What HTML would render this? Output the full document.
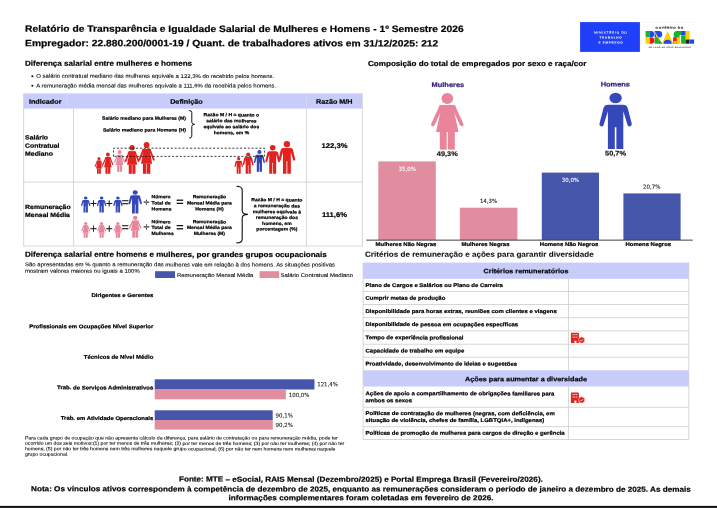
<!DOCTYPE html><html lang="pt-BR"><head><meta charset="utf-8"><title>Relatório de Transparência e Igualdade Salarial</title><style>
html,body{margin:0;padding:0;background:#fff;}
body{width:717px;height:508px;position:relative;overflow:hidden;font-family:"Liberation Sans", sans-serif;}
.t{position:absolute;white-space:nowrap;line-height:1;}
.r{position:absolute;}
svg{position:absolute;left:0;top:0;overflow:visible;}
text{white-space:pre;}
</style></head><body>
<svg width="717" height="508" viewBox="0 0 717 508"><rect x="580.10" y="22.10" width="59.80" height="29.80" fill="#1f40f8"/><rect x="640.00" y="22.10" width="58.00" height="0.40" fill="#efefef"/><ellipse cx="32.35" cy="76.2" rx="1.05" ry="1" fill="#111"/><ellipse cx="32.35" cy="85.8" rx="1.05" ry="1" fill="#111"/><rect x="23.60" y="93.40" width="338.80" height="15.20" fill="#c7ccfb"/><rect x="23.25" y="93.40" width="0.90" height="152.80" fill="#d2d2d2"/><rect x="361.85" y="93.40" width="0.90" height="152.80" fill="#d2d2d2"/><rect x="23.40" y="181.65" width="339.20" height="0.90" fill="#d2d2d2"/><rect x="23.40" y="245.55" width="339.20" height="0.90" fill="#d2d2d2"/><rect x="73.15" y="108.60" width="0.90" height="137.60" fill="#d2d2d2"/><rect x="306.15" y="108.60" width="0.90" height="137.60" fill="#d2d2d2"/><rect x="66.55" y="93.40" width="0.90" height="15.20" fill="#d6d9f6"/><rect x="306.15" y="93.40" width="0.90" height="15.20" fill="#d6d9f6"/><rect x="155.10" y="271.20" width="19.90" height="6.80" fill="#4656ab"/><rect x="259.60" y="271.20" width="19.60" height="6.80" fill="#e08e9f"/><rect x="154.70" y="379.30" width="159.80" height="10.20" fill="#4656ab"/><rect x="154.70" y="389.50" width="131.20" height="9.80" fill="#e08e9f"/><rect x="154.70" y="410.30" width="118.00" height="9.70" fill="#4656ab"/><rect x="154.70" y="420.00" width="118.10" height="9.60" fill="#e08e9f"/><rect x="378.30" y="161.40" width="57.50" height="78.50" fill="#e08e9f"/><rect x="459.90" y="207.70" width="57.50" height="32.20" fill="#e08e9f"/><rect x="541.80" y="172.60" width="57.20" height="67.30" fill="#4656ab"/><rect x="623.40" y="193.40" width="57.20" height="46.50" fill="#4656ab"/><rect x="366.30" y="239.70" width="326.40" height="0.80" fill="#111"/><rect x="363.00" y="262.60" width="325.90" height="16.20" fill="#c7ccfb"/><rect x="363.00" y="370.30" width="325.90" height="16.20" fill="#c7ccfb"/><rect x="363.00" y="290.95" width="325.90" height="0.90" fill="#d2d2d2"/><rect x="363.00" y="304.05" width="325.90" height="0.90" fill="#d2d2d2"/><rect x="363.00" y="317.25" width="325.90" height="0.90" fill="#d2d2d2"/><rect x="363.00" y="330.45" width="325.90" height="0.90" fill="#d2d2d2"/><rect x="363.00" y="343.75" width="325.90" height="0.90" fill="#d2d2d2"/><rect x="363.00" y="356.75" width="325.90" height="0.90" fill="#d2d2d2"/><rect x="363.00" y="406.75" width="325.90" height="0.90" fill="#d2d2d2"/><rect x="363.00" y="426.25" width="325.90" height="0.90" fill="#d2d2d2"/><rect x="363.00" y="439.15" width="325.90" height="0.90" fill="#d2d2d2"/><rect x="362.65" y="262.60" width="0.90" height="177.30" fill="#d2d2d2"/><rect x="688.35" y="262.60" width="0.90" height="177.30" fill="#d2d2d2"/><rect x="567.95" y="278.80" width="0.90" height="91.80" fill="#d2d2d2"/><rect x="567.95" y="386.60" width="0.90" height="53.30" fill="#d2d2d2"/><rect x="0.00" y="505.88" width="717.00" height="2.12" fill="#141414"/><rect x="0.00" y="507.00" width="717.00" height="1.00" fill="#262626"/></svg>
<svg width="717" height="508" viewBox="0 0 717 508">
<g transform="translate(645.6,31)">
<rect x="0" y="0" width="4.2" height="6.3" fill="#16b32a"/><path d="M4.2 0h1.2a3.1 3.1 0 0 1 0 6.3h-1.2z" fill="#1d49f5"/><rect x="0" y="6.3" width="4.2" height="6.4" fill="#ffd000"/><path d="M4.2 6.3h1.4a3.2 3.2 0 0 1 0 6.4h-1.4z" fill="#f0141e"/>
<path d="M9 0h4.4a3.2 3.2 0 0 1 0 6.4h-4.4z" fill="#1d49f5"/><path d="M9 0l7.6 12.7h-4z" fill="#ffd000"/><rect x="9" y="6.4" width="3.6" height="6.3" fill="#16b32a"/><path d="M12.6 7.4l4.4 5.3h-4.4z" fill="#16b32a"/>
<path d="M22 0l5.6 12.7h-11.2z" fill="#ffd000"/><path d="M18 12.7a4 4 0 0 1 8 0z" fill="#1d49f5"/>
<path d="M31.5 0a3.5 3.5 0 0 0 0 7h2.5v-7z" fill="#16b32a"/><rect x="31" y="0" width="4.5" height="4" fill="#16b32a"/><path d="M27.5 6.3h3.5a3.2 3.2 0 0 1 0 6.4h-3.5z" fill="#f0141e"/><rect x="31" y="6.3" width="3.5" height="6.4" fill="#ffd000"/><rect x="28" y="10" width="3" height="2.7" fill="#ffd000"/>
<rect x="35.5" y="0" width="4.6" height="4.5" fill="#1d49f5"/><rect x="35.5" y="4.5" width="4.6" height="8.2" fill="#16b32a"/>
<rect x="40.1" y="0" width="4" height="8.5" fill="#ffd000"/><rect x="40.1" y="8.5" width="3.6" height="4.2" fill="#222"/><rect x="43.7" y="8.5" width="4.8" height="4.2" fill="#1d49f5"/>
</g></svg>
<svg width="717" height="508" viewBox="0 0 717 508">
<defs>
<g id="w"><ellipse cx="0" cy="5.5" rx="5.8" ry="5.5"/><rect x="-8.6" y="12.1" width="17.2" height="5" rx="2.4"/><path d="M-5.6 13h11.2l5.7 26h-22.600z"/><path d="M-6.600 14.500l-7.800 17M6.600 14.500l7.800 17" stroke="currentColor" stroke-width="3.700" stroke-linecap="round" fill="none" class="arm"/><rect x="-7.500" y="38.500" width="6.900" height="18.200"/><rect x=".5" y="38.500" width="7" height="18.200"/></g>
<g id="m"><ellipse cx="0" cy="5.3" rx="6.2" ry="5.3"/><path d="M-7.5 12h15q3.6 0 4.6 3.4l4 15.4q.5 2.2-1.4 2.8t-2.7-1.4l-4.3-13.6v37.7h-6.9v-21.8h-1.6v21.8h-6.9v-37.7l-4.3 13.6q-.8 2-2.7 1.4t-1.4-2.8l4-15.4q1-3.400 4.600-3.400z"/></g>
</defs>
<use href="#w" transform="translate(98.95,157.00) scale(0.2607,0.2963)" fill="#e3211f" color="#e3211f"/>
<use href="#w" transform="translate(107.90,152.50) scale(0.3306,0.3757)" fill="#e3211f" color="#e3211f"/>
<use href="#w" transform="translate(119.60,150.00) scale(0.3383,0.3845)" fill="#ea8ba3" color="#ea8ba3"/>
<use href="#w" transform="translate(132.10,145.00) scale(0.4470,0.5079)" fill="#e3211f" color="#e3211f"/>
<use href="#w" transform="translate(146.60,141.90) scale(0.4951,0.5626)" fill="#e3211f" color="#e3211f"/>
<use href="#m" transform="translate(238.70,157.10) scale(0.2610,0.2966)" fill="#e3211f" color="#e3211f"/>
<use href="#m" transform="translate(248.20,152.50) scale(0.3329,0.3783)" fill="#e3211f" color="#e3211f"/>
<use href="#m" transform="translate(259.40,150.00) scale(0.3407,0.3872)" fill="#3548b9" color="#3548b9"/>
<use href="#m" transform="translate(272.70,145.00) scale(0.4502,0.5115)" fill="#e3211f" color="#e3211f"/>
<use href="#m" transform="translate(286.90,141.10) scale(0.5111,0.5808)" fill="#e3211f" color="#e3211f"/>
<path d="M113.5 156.4V148.2H264.6V156.4H113.5" fill="none" stroke="#111" stroke-width="0.8" stroke-dasharray="2.1 1.75"/>
<path d="M189.1 110.5q2.700 0 2.700 2v9.800q0 1.800 2.800 2q-2.800 .2-2.800 2v9.800q0 2-2.700 2" fill="none" stroke="#111" stroke-width="1"/>
<path d="M236.4 186.300q5.800 0 5.800 4v20.500q0 3.500 5.700 3.600q-5.700 .1-5.700 3.600v20.900q0 4-5.800 4" fill="none" stroke="#111" stroke-width="1.1"/>
<use href="#m" transform="translate(85.70,196.50) scale(0.2860,0.2860)" fill="#3548b9" color="#3548b9"/>
<use href="#w" transform="translate(85.70,222.00) scale(0.2769,0.2769)" fill="#ea849b" color="#ea849b"/>
<use href="#m" transform="translate(101.60,196.50) scale(0.2860,0.2860)" fill="#3548b9" color="#3548b9"/>
<use href="#w" transform="translate(101.60,222.00) scale(0.2769,0.2769)" fill="#ea849b" color="#ea849b"/>
<use href="#m" transform="translate(117.90,196.50) scale(0.2860,0.2860)" fill="#3548b9" color="#3548b9"/>
<use href="#w" transform="translate(117.90,222.00) scale(0.2769,0.2769)" fill="#ea849b" color="#ea849b"/>
<use href="#m" transform="translate(135.20,190.30) scale(0.4139,0.4139)" fill="#3548b9" color="#3548b9"/>
<use href="#w" transform="translate(135.20,215.80) scale(0.3862,0.3862)" fill="#ea849b" color="#ea849b"/>
<use href="#w" transform="translate(447.30,92.90) scale(1.0000,1.0000)" fill="#ea849b" color="#ea849b"/>
<use href="#m" transform="translate(615.60,92.70) scale(1.0000,1.0000)" fill="#3548b9" color="#3548b9"/>
</svg>
<svg width="717" height="508" viewBox="0 0 717 508"><g transform="translate(570.9,332.8)"><path d="M.8 0h6.400q.8 0 .8.800v9.500h-2.500v-2.300h-2v2.300h-3.500v-9.500q0-.8.800-.8z" fill="#e3211f"/><path d="M1.600 1.900h4.800M1.600 4.400h4.800" stroke="#fff" stroke-width="0.9" stroke-dasharray="1.2 0.6"/><circle cx="10.800" cy="7.300" r="3.100" fill="#e3211f" stroke="#fff" stroke-width="0.5"/><path d="M9.400 7.400l1 1 1.900-2" stroke="#fff" stroke-width="0.7" fill="none"/></g></svg>
<svg width="717" height="508" viewBox="0 0 717 508"><g transform="translate(570.9,392.6)"><path d="M.8 0h6.400q.8 0 .8.800v9.500h-2.500v-2.300h-2v2.300h-3.500v-9.500q0-.8.800-.8z" fill="#e3211f"/><path d="M1.600 1.900h4.800M1.600 4.400h4.800" stroke="#fff" stroke-width="0.9" stroke-dasharray="1.2 0.6"/><circle cx="10.800" cy="7.300" r="3.100" fill="#e3211f" stroke="#fff" stroke-width="0.5"/><path d="M9.400 7.400l1 1 1.900-2" stroke="#fff" stroke-width="0.7" fill="none"/></g></svg>
<svg width="717" height="508" viewBox="0 0 717 508" style="text-rendering:geometricPrecision">
<text transform="translate(25.10,31.80) scale(1.11,1) matrix(1,0.0006,0,1,0,0)" font-size="9.261" font-weight="bold" fill="#000" text-anchor="start" stroke="#000" stroke-width="0.2">Relatório de Transparência e Igualdade Salarial de Mulheres e Homens - 1º Semestre 2026</text>
<text transform="translate(25.10,46.20) scale(1.11,1) matrix(1,0.0006,0,1,0,0)" font-size="9.261" font-weight="bold" fill="#000" text-anchor="start" stroke="#000" stroke-width="0.2">Empregador: 22.880.200/0001-19 / Quant. de trabalhadores ativos em 31/12/2025: 212</text>
<text transform="translate(610.90,33.50) scale(1.11,1) matrix(1,0.0006,0,1,0,0)" font-size="2.793" font-weight="normal" fill="#fff" text-anchor="middle" letter-spacing="0.676" stroke="#fff" stroke-width="0.08">MINISTÉRIO DO</text>
<text transform="translate(610.90,38.40) scale(1.11,1) matrix(1,0.0006,0,1,0,0)" font-size="2.703" font-weight="bold" fill="#fff" text-anchor="middle" letter-spacing="0.676" stroke="#fff" stroke-width="0.08">TRABALHO</text>
<text transform="translate(610.90,43.50) scale(1.11,1) matrix(1,0.0006,0,1,0,0)" font-size="2.703" font-weight="bold" fill="#fff" text-anchor="middle" letter-spacing="0.676" stroke="#fff" stroke-width="0.08">E EMPREGO</text>
<text transform="translate(669.70,28.70) scale(1.11,1) matrix(1,0.0006,0,1,0,0)" font-size="2.793" font-weight="bold" fill="#000" text-anchor="middle" letter-spacing="0.631" stroke="#000" stroke-width="0.08">GOVERNO DO</text>
<text transform="translate(669.90,47.90) scale(1.11,1) matrix(1,0.0006,0,1,0,0)" font-size="1.892" font-weight="bold" fill="#555" text-anchor="middle" letter-spacing="0.315" stroke="#555" stroke-width="0.08">DO LADO DO POVO BRASILEIRO</text>
<text transform="translate(25.00,65.70) scale(1.11,1) matrix(1,0.0006,0,1,0,0)" font-size="7.297" font-weight="bold" fill="#000" text-anchor="start" stroke="#000" stroke-width="0.2">Diferença salarial entre mulheres e homens</text>
<text transform="translate(36.30,77.80) scale(1.11,1) matrix(1,0.0006,0,1,0,0)" font-size="5.387" font-weight="normal" fill="#000" text-anchor="start" stroke="#000" stroke-width="0.08">O salário contratual mediano das mulheres equivale a 122,3% do recebido pelos homens.</text>
<text transform="translate(36.30,87.40) scale(1.11,1) matrix(1,0.0006,0,1,0,0)" font-size="5.387" font-weight="normal" fill="#000" text-anchor="start" stroke="#000" stroke-width="0.08">A remuneração média mensal das mulheres equivale a 111,6% da recebida pelos homens.</text>
<text transform="translate(28.90,103.80) scale(1.11,1) matrix(1,0.0006,0,1,0,0)" font-size="6.532" font-weight="bold" fill="#000" text-anchor="start" stroke="#000" stroke-width="0.2">Indicador</text>
<text transform="translate(186.40,103.80) scale(1.11,1) matrix(1,0.0006,0,1,0,0)" font-size="6.532" font-weight="bold" fill="#000" text-anchor="middle" stroke="#000" stroke-width="0.2">Definição</text>
<text transform="translate(334.30,103.80) scale(1.11,1) matrix(1,0.0006,0,1,0,0)" font-size="6.532" font-weight="bold" fill="#000" text-anchor="middle" stroke="#000" stroke-width="0.2">Razão M/H</text>
<text transform="translate(25.10,139.50) scale(1.11,1) matrix(1,0.0006,0,1,0,0)" font-size="6.216" font-weight="bold" fill="#000" text-anchor="start" stroke="#000" stroke-width="0.2">Salário</text>
<text transform="translate(25.10,147.70) scale(1.11,1) matrix(1,0.0006,0,1,0,0)" font-size="6.216" font-weight="bold" fill="#000" text-anchor="start" stroke="#000" stroke-width="0.2">Contratual</text>
<text transform="translate(25.10,155.80) scale(1.11,1) matrix(1,0.0006,0,1,0,0)" font-size="6.216" font-weight="bold" fill="#000" text-anchor="start" stroke="#000" stroke-width="0.2">Mediano</text>
<text transform="translate(334.50,148.00) scale(1.11,1) matrix(1,0.0006,0,1,0,0)" font-size="6.892" font-weight="bold" fill="#000" text-anchor="middle" stroke="#000" stroke-width="0.2">122,3%</text>
<text transform="translate(25.10,208.90) scale(1.11,1) matrix(1,0.0006,0,1,0,0)" font-size="6.216" font-weight="bold" fill="#000" text-anchor="start" stroke="#000" stroke-width="0.2">Remuneração</text>
<text transform="translate(25.10,216.90) scale(1.11,1) matrix(1,0.0006,0,1,0,0)" font-size="6.216" font-weight="bold" fill="#000" text-anchor="start" stroke="#000" stroke-width="0.2">Mensal Média</text>
<text transform="translate(334.50,216.90) scale(1.11,1) matrix(1,0.0006,0,1,0,0)" font-size="6.892" font-weight="bold" fill="#000" text-anchor="middle" stroke="#000" stroke-width="0.2">111,6%</text>
<text transform="translate(185.90,119.67) scale(1.11,1) matrix(1,0.0006,0,1,0,0)" font-size="4.577" font-weight="bold" fill="#000" text-anchor="end" stroke="#000" stroke-width="0.2">Salário mediano para Mulheres (M)</text>
<text transform="translate(185.90,131.47) scale(1.11,1) matrix(1,0.0006,0,1,0,0)" font-size="4.685" font-weight="bold" fill="#000" text-anchor="end" stroke="#000" stroke-width="0.2">Salário mediano para Homens (H)</text>
<text transform="translate(231.40,116.37) scale(1.11,1) matrix(1,0.0006,0,1,0,0)" font-size="4.577" font-weight="bold" fill="#000" text-anchor="middle" stroke="#000" stroke-width="0.2">Razão M / H = quanto o</text>
<text transform="translate(231.40,122.37) scale(1.11,1) matrix(1,0.0006,0,1,0,0)" font-size="4.577" font-weight="bold" fill="#000" text-anchor="middle" stroke="#000" stroke-width="0.2">salário das mulheres</text>
<text transform="translate(231.40,128.27) scale(1.11,1) matrix(1,0.0006,0,1,0,0)" font-size="4.577" font-weight="bold" fill="#000" text-anchor="middle" stroke="#000" stroke-width="0.2">equivale ao salário dos</text>
<text transform="translate(231.40,134.27) scale(1.11,1) matrix(1,0.0006,0,1,0,0)" font-size="4.577" font-weight="bold" fill="#000" text-anchor="middle" stroke="#000" stroke-width="0.2">homens, em %</text>
<text transform="translate(151.50,198.17) scale(1.11,1) matrix(1,0.0006,0,1,0,0)" font-size="4.577" font-weight="bold" fill="#000" text-anchor="start" stroke="#000" stroke-width="0.2">Número</text>
<text transform="translate(151.50,204.47) scale(1.11,1) matrix(1,0.0006,0,1,0,0)" font-size="4.577" font-weight="bold" fill="#000" text-anchor="start" stroke="#000" stroke-width="0.2">Total de</text>
<text transform="translate(151.50,210.47) scale(1.11,1) matrix(1,0.0006,0,1,0,0)" font-size="4.577" font-weight="bold" fill="#000" text-anchor="start" stroke="#000" stroke-width="0.2">Homens</text>
<text transform="translate(151.50,223.37) scale(1.11,1) matrix(1,0.0006,0,1,0,0)" font-size="4.577" font-weight="bold" fill="#000" text-anchor="start" stroke="#000" stroke-width="0.2">Número</text>
<text transform="translate(151.50,228.97) scale(1.11,1) matrix(1,0.0006,0,1,0,0)" font-size="4.577" font-weight="bold" fill="#000" text-anchor="start" stroke="#000" stroke-width="0.2">Total de</text>
<text transform="translate(151.50,234.97) scale(1.11,1) matrix(1,0.0006,0,1,0,0)" font-size="4.577" font-weight="bold" fill="#000" text-anchor="start" stroke="#000" stroke-width="0.2">Mulheres</text>
<text transform="translate(209.40,198.17) scale(1.11,1) matrix(1,0.0006,0,1,0,0)" font-size="4.577" font-weight="bold" fill="#000" text-anchor="middle" stroke="#000" stroke-width="0.2">Remuneração</text>
<text transform="translate(209.40,204.47) scale(1.11,1) matrix(1,0.0006,0,1,0,0)" font-size="4.577" font-weight="bold" fill="#000" text-anchor="middle" stroke="#000" stroke-width="0.2">Mensal Média para</text>
<text transform="translate(209.40,210.47) scale(1.11,1) matrix(1,0.0006,0,1,0,0)" font-size="4.577" font-weight="bold" fill="#000" text-anchor="middle" stroke="#000" stroke-width="0.2">Homens (H)</text>
<text transform="translate(209.40,223.37) scale(1.11,1) matrix(1,0.0006,0,1,0,0)" font-size="4.577" font-weight="bold" fill="#000" text-anchor="middle" stroke="#000" stroke-width="0.2">Remuneração</text>
<text transform="translate(209.40,228.97) scale(1.11,1) matrix(1,0.0006,0,1,0,0)" font-size="4.577" font-weight="bold" fill="#000" text-anchor="middle" stroke="#000" stroke-width="0.2">Mensal Média para</text>
<text transform="translate(209.40,234.97) scale(1.11,1) matrix(1,0.0006,0,1,0,0)" font-size="4.577" font-weight="bold" fill="#000" text-anchor="middle" stroke="#000" stroke-width="0.2">Mulheres (M)</text>
<text transform="translate(276.90,201.37) scale(1.11,1) matrix(1,0.0006,0,1,0,0)" font-size="4.577" font-weight="bold" fill="#000" text-anchor="middle" stroke="#000" stroke-width="0.2">Razão M / H = quanto</text>
<text transform="translate(276.90,207.37) scale(1.11,1) matrix(1,0.0006,0,1,0,0)" font-size="4.577" font-weight="bold" fill="#000" text-anchor="middle" stroke="#000" stroke-width="0.2">a remuneração das</text>
<text transform="translate(276.90,213.37) scale(1.11,1) matrix(1,0.0006,0,1,0,0)" font-size="4.577" font-weight="bold" fill="#000" text-anchor="middle" stroke="#000" stroke-width="0.2">mulheres equivale à</text>
<text transform="translate(276.90,219.07) scale(1.11,1) matrix(1,0.0006,0,1,0,0)" font-size="4.577" font-weight="bold" fill="#000" text-anchor="middle" stroke="#000" stroke-width="0.2">remuneração dos</text>
<text transform="translate(276.90,224.97) scale(1.11,1) matrix(1,0.0006,0,1,0,0)" font-size="4.577" font-weight="bold" fill="#000" text-anchor="middle" stroke="#000" stroke-width="0.2">homens, em</text>
<text transform="translate(276.90,230.57) scale(1.11,1) matrix(1,0.0006,0,1,0,0)" font-size="4.577" font-weight="bold" fill="#000" text-anchor="middle" stroke="#000" stroke-width="0.2">porcentagem (%)</text>
<text transform="translate(93.40,207.54) scale(1.0,1) matrix(1,0.0006,0,1,0,0)" font-size="12.000" font-weight="normal" fill="#111" text-anchor="middle" stroke="#111" stroke-width="0.12">+</text>
<text transform="translate(109.30,207.54) scale(1.0,1) matrix(1,0.0006,0,1,0,0)" font-size="12.000" font-weight="normal" fill="#111" text-anchor="middle" stroke="#111" stroke-width="0.12">+</text>
<text transform="translate(125.20,206.00) scale(1.0,1) matrix(1,0.0006,0,1,0,0)" font-size="11.900" font-weight="normal" fill="#111" text-anchor="middle" stroke="#111" stroke-width="0.3">=</text>
<text transform="translate(93.40,232.64) scale(1.0,1) matrix(1,0.0006,0,1,0,0)" font-size="12.000" font-weight="normal" fill="#111" text-anchor="middle" stroke="#111" stroke-width="0.12">+</text>
<text transform="translate(109.30,232.64) scale(1.0,1) matrix(1,0.0006,0,1,0,0)" font-size="12.000" font-weight="normal" fill="#111" text-anchor="middle" stroke="#111" stroke-width="0.12">+</text>
<text transform="translate(125.20,231.10) scale(1.0,1) matrix(1,0.0006,0,1,0,0)" font-size="11.900" font-weight="normal" fill="#111" text-anchor="middle" stroke="#111" stroke-width="0.3">=</text>
<text transform="translate(146.40,205.81) scale(1.0,1) matrix(1,0.0006,0,1,0,0)" font-size="10.800" font-weight="normal" fill="#111" text-anchor="middle" stroke="#111" stroke-width="0.18">÷</text>
<text transform="translate(146.40,230.61) scale(1.0,1) matrix(1,0.0006,0,1,0,0)" font-size="10.800" font-weight="normal" fill="#111" text-anchor="middle" stroke="#111" stroke-width="0.18">÷</text>
<text transform="translate(180.00,206.05) scale(1.0,1) matrix(1,0.0006,0,1,0,0)" font-size="12.600" font-weight="normal" fill="#111" text-anchor="middle" stroke="#111" stroke-width="0.3">=</text>
<text transform="translate(180.00,231.25) scale(1.0,1) matrix(1,0.0006,0,1,0,0)" font-size="12.600" font-weight="normal" fill="#111" text-anchor="middle" stroke="#111" stroke-width="0.3">=</text>
<text transform="translate(25.00,256.80) scale(1.11,1) matrix(1,0.0006,0,1,0,0)" font-size="7.297" font-weight="bold" fill="#000" text-anchor="start" stroke="#000" stroke-width="0.2">Diferença salarial entre homens e mulheres, por grandes grupos ocupacionais</text>
<text transform="translate(25.00,266.30) scale(1.11,1) matrix(1,0.0006,0,1,0,0)" font-size="5.405" font-weight="normal" fill="#000" text-anchor="start" stroke="#000" stroke-width="0.08">São apresentadas em % quanto a remuneração das mulheres vale em relação à dos homens. As situações positivas</text>
<text transform="translate(25.00,272.80) scale(1.11,1) matrix(1,0.0006,0,1,0,0)" font-size="5.405" font-weight="normal" fill="#000" text-anchor="start" stroke="#000" stroke-width="0.08">mostram valores maiores ou iguais a 100%</text>
<text transform="translate(176.90,277.00) scale(1.11,1) matrix(1,0.0006,0,1,0,0)" font-size="5.405" font-weight="normal" fill="#000" text-anchor="start" stroke="#000" stroke-width="0.08">Remuneração Mensal Média</text>
<text transform="translate(280.50,277.00) scale(1.11,1) matrix(1,0.0006,0,1,0,0)" font-size="5.405" font-weight="normal" fill="#000" text-anchor="start" stroke="#000" stroke-width="0.08">Salário Contratual Mediano</text>
<text transform="translate(153.30,297.12) scale(1.11,1) matrix(1,0.0006,0,1,0,0)" font-size="5.405" font-weight="bold" fill="#000" text-anchor="end" stroke="#000" stroke-width="0.2">Dirigentes e Gerentes</text>
<text transform="translate(153.30,328.32) scale(1.11,1) matrix(1,0.0006,0,1,0,0)" font-size="5.405" font-weight="bold" fill="#000" text-anchor="end" stroke="#000" stroke-width="0.2">Profissionais em Ocupações Nível Superior</text>
<text transform="translate(153.30,358.82) scale(1.11,1) matrix(1,0.0006,0,1,0,0)" font-size="5.405" font-weight="bold" fill="#000" text-anchor="end" stroke="#000" stroke-width="0.2">Técnicos de Nível Médio</text>
<text transform="translate(153.30,389.42) scale(1.11,1) matrix(1,0.0006,0,1,0,0)" font-size="5.405" font-weight="bold" fill="#000" text-anchor="end" stroke="#000" stroke-width="0.2">Trab. de Serviços Administrativos</text>
<text transform="translate(153.30,419.92) scale(1.11,1) matrix(1,0.0006,0,1,0,0)" font-size="5.405" font-weight="bold" fill="#000" text-anchor="end" stroke="#000" stroke-width="0.2">Trab. em Atividade Operacionais</text>
<text transform="translate(317.20,386.20) scale(0.96,1) matrix(1,0.0006,0,1,0,0)" font-size="5.656" font-weight="normal" fill="#151515" text-anchor="start" font-family='DejaVu Sans, Liberation Sans, sans-serif' stroke="#151515" stroke-width="0.08">121,4%</text>
<text transform="translate(288.80,396.90) scale(0.96,1) matrix(1,0.0006,0,1,0,0)" font-size="5.656" font-weight="normal" fill="#151515" text-anchor="start" font-family='DejaVu Sans, Liberation Sans, sans-serif' stroke="#151515" stroke-width="0.08">100,0%</text>
<text transform="translate(275.60,417.40) scale(0.96,1) matrix(1,0.0006,0,1,0,0)" font-size="5.656" font-weight="normal" fill="#151515" text-anchor="start" font-family='DejaVu Sans, Liberation Sans, sans-serif' stroke="#151515" stroke-width="0.08">90,1%</text>
<text transform="translate(275.60,427.00) scale(0.96,1) matrix(1,0.0006,0,1,0,0)" font-size="5.656" font-weight="normal" fill="#151515" text-anchor="start" font-family='DejaVu Sans, Liberation Sans, sans-serif' stroke="#151515" stroke-width="0.08">90,2%</text>
<text transform="translate(25.00,439.39) scale(1.11,1) matrix(1,0.0006,0,1,0,0)" font-size="4.631" font-weight="normal" fill="#000" text-anchor="start" stroke="#000" stroke-width="0.08">Para cada grupo de ocupação que não apresenta cálculo da diferença, para salário de contratação ou para remuneração média, pode ter</text>
<text transform="translate(25.00,444.79) scale(1.11,1) matrix(1,0.0006,0,1,0,0)" font-size="4.631" font-weight="normal" fill="#000" text-anchor="start" stroke="#000" stroke-width="0.08">ocorrido um dos seis motivos:(1) por ter menos de três mulheres; (2) por ter menos de três homens; (3) por não ter mulheres; (4) por não ter</text>
<text transform="translate(25.00,450.29) scale(1.11,1) matrix(1,0.0006,0,1,0,0)" font-size="4.631" font-weight="normal" fill="#000" text-anchor="start" stroke="#000" stroke-width="0.08">homens; (5) por não ter três homens nem três mulheres naquele grupo ocupacional; (6) por não ter nem homens nem mulheres naquele</text>
<text transform="translate(25.00,455.69) scale(1.11,1) matrix(1,0.0006,0,1,0,0)" font-size="4.631" font-weight="normal" fill="#000" text-anchor="start" stroke="#000" stroke-width="0.08">grupo ocupacional.</text>
<text transform="translate(368.00,66.00) scale(1.11,1) matrix(1,0.0006,0,1,0,0)" font-size="7.297" font-weight="bold" fill="#000" text-anchor="start" stroke="#000" stroke-width="0.2">Composição do total de empregados por sexo e raça/cor</text>
<text transform="translate(447.90,86.90) scale(1.11,1) matrix(1,0.0006,0,1,0,0)" font-size="6.712" font-weight="bold" fill="#2b1a6e" text-anchor="middle" stroke="#2b1a6e" stroke-width="0.2">Mulheres</text>
<text transform="translate(615.30,86.60) scale(1.11,1) matrix(1,0.0006,0,1,0,0)" font-size="6.712" font-weight="bold" fill="#2b1a6e" text-anchor="middle" stroke="#2b1a6e" stroke-width="0.2">Homens</text>
<text transform="translate(447.30,155.90) scale(1.11,1) matrix(1,0.0006,0,1,0,0)" font-size="6.667" font-weight="bold" fill="#1a1a1a" text-anchor="middle" stroke="#1a1a1a" stroke-width="0.2">49,3%</text>
<text transform="translate(615.50,155.60) scale(1.11,1) matrix(1,0.0006,0,1,0,0)" font-size="6.667" font-weight="bold" fill="#1a1a1a" text-anchor="middle" stroke="#1a1a1a" stroke-width="0.2">50,7%</text>
<text transform="translate(407.20,171.00) scale(0.96,1) matrix(1,0.0006,0,1,0,0)" font-size="5.656" font-weight="normal" fill="#fff" text-anchor="middle" font-family='DejaVu Sans, Liberation Sans, sans-serif' stroke="#fff" stroke-width="0.08">35,0%</text>
<text transform="translate(488.50,203.00) scale(0.96,1) matrix(1,0.0006,0,1,0,0)" font-size="5.656" font-weight="normal" fill="#151515" text-anchor="middle" font-family='DejaVu Sans, Liberation Sans, sans-serif' stroke="#151515" stroke-width="0.08">14,3%</text>
<text transform="translate(570.40,181.90) scale(0.96,1) matrix(1,0.0006,0,1,0,0)" font-size="5.656" font-weight="normal" fill="#fff" text-anchor="middle" font-family='DejaVu Sans, Liberation Sans, sans-serif' stroke="#fff" stroke-width="0.08">30,0%</text>
<text transform="translate(651.70,188.70) scale(0.96,1) matrix(1,0.0006,0,1,0,0)" font-size="5.656" font-weight="normal" fill="#151515" text-anchor="middle" font-family='DejaVu Sans, Liberation Sans, sans-serif' stroke="#151515" stroke-width="0.08">20,7%</text>
<text transform="translate(406.00,245.90) scale(1.11,1) matrix(1,0.0006,0,1,0,0)" font-size="5.360" font-weight="bold" fill="#000" text-anchor="middle" stroke="#000" stroke-width="0.2">Mulheres Não Negras</text>
<text transform="translate(485.50,245.90) scale(1.11,1) matrix(1,0.0006,0,1,0,0)" font-size="5.360" font-weight="bold" fill="#000" text-anchor="middle" stroke="#000" stroke-width="0.2">Mulheres Negras</text>
<text transform="translate(569.10,245.90) scale(1.11,1) matrix(1,0.0006,0,1,0,0)" font-size="5.360" font-weight="bold" fill="#000" text-anchor="middle" stroke="#000" stroke-width="0.2">Homens Não Negros</text>
<text transform="translate(648.30,245.90) scale(1.11,1) matrix(1,0.0006,0,1,0,0)" font-size="5.360" font-weight="bold" fill="#000" text-anchor="middle" stroke="#000" stroke-width="0.2">Homens Negros</text>
<text transform="translate(365.00,256.70) scale(1.11,1) matrix(1,0.0006,0,1,0,0)" font-size="7.297" font-weight="bold" fill="#111" text-anchor="start" stroke="#111" stroke-width="0.1">Critérios de remuneração e ações para garantir diversidade</text>
<text transform="translate(526.00,273.20) scale(1.11,1) matrix(1,0.0006,0,1,0,0)" font-size="6.532" font-weight="bold" fill="#000" text-anchor="middle" stroke="#000" stroke-width="0.2">Critérios remuneratórios</text>
<text transform="translate(526.00,381.20) scale(1.11,1) matrix(1,0.0006,0,1,0,0)" font-size="6.532" font-weight="bold" fill="#000" text-anchor="middle" stroke="#000" stroke-width="0.2">Ações para aumentar a diversidade</text>
<text transform="translate(365.50,286.90) scale(1.11,1) matrix(1,0.0006,0,1,0,0)" font-size="5.405" font-weight="bold" fill="#000" text-anchor="start" stroke="#000" stroke-width="0.2">Plano de Cargos e Salários ou Plano de Carreira</text>
<text transform="translate(365.50,299.75) scale(1.11,1) matrix(1,0.0006,0,1,0,0)" font-size="5.405" font-weight="bold" fill="#000" text-anchor="start" stroke="#000" stroke-width="0.2">Cumprir metas de produção</text>
<text transform="translate(365.50,312.90) scale(1.11,1) matrix(1,0.0006,0,1,0,0)" font-size="5.405" font-weight="bold" fill="#000" text-anchor="start" stroke="#000" stroke-width="0.2">Disponibilidade para horas extras, reuniões com clientes e viagens</text>
<text transform="translate(365.50,326.10) scale(1.11,1) matrix(1,0.0006,0,1,0,0)" font-size="5.405" font-weight="bold" fill="#000" text-anchor="start" stroke="#000" stroke-width="0.2">Disponibilidade de pessoa em ocupações específicas</text>
<text transform="translate(365.50,339.35) scale(1.11,1) matrix(1,0.0006,0,1,0,0)" font-size="5.405" font-weight="bold" fill="#000" text-anchor="start" stroke="#000" stroke-width="0.2">Tempo de experiência profissional</text>
<text transform="translate(365.50,352.50) scale(1.11,1) matrix(1,0.0006,0,1,0,0)" font-size="5.405" font-weight="bold" fill="#000" text-anchor="start" stroke="#000" stroke-width="0.2">Capacidade de trabalho em equipe</text>
<text transform="translate(365.50,365.55) scale(1.11,1) matrix(1,0.0006,0,1,0,0)" font-size="5.405" font-weight="bold" fill="#000" text-anchor="start" stroke="#000" stroke-width="0.2">Proatividade, desenvolvimento de ideias e sugestões</text>
<text transform="translate(365.50,395.30) scale(1.11,1) matrix(1,0.0006,0,1,0,0)" font-size="5.405" font-weight="bold" fill="#000" text-anchor="start" stroke="#000" stroke-width="0.2">Ações de apoio a compartilhamento de obrigações familiares para</text>
<text transform="translate(365.50,402.30) scale(1.11,1) matrix(1,0.0006,0,1,0,0)" font-size="5.405" font-weight="bold" fill="#000" text-anchor="start" stroke="#000" stroke-width="0.2">ambos os sexos</text>
<text transform="translate(365.50,415.10) scale(1.11,1) matrix(1,0.0006,0,1,0,0)" font-size="5.405" font-weight="bold" fill="#000" text-anchor="start" stroke="#000" stroke-width="0.2">Políticas de contratação de mulheres (negras, com deficiência, em</text>
<text transform="translate(365.50,421.90) scale(1.11,1) matrix(1,0.0006,0,1,0,0)" font-size="5.405" font-weight="bold" fill="#000" text-anchor="start" stroke="#000" stroke-width="0.2">situação de violência, chefes de família, LGBTQIA+, indígenas)</text>
<text transform="translate(365.50,434.70) scale(1.11,1) matrix(1,0.0006,0,1,0,0)" font-size="5.405" font-weight="bold" fill="#000" text-anchor="start" stroke="#000" stroke-width="0.2">Políticas de promoção de mulheres para cargos de direção e gerência</text>
<text transform="translate(360.90,481.70) scale(1.11,1) matrix(1,0.0006,0,1,0,0)" font-size="7.342" font-weight="bold" fill="#000" text-anchor="middle" stroke="#000" stroke-width="0.2">Fonte: MTE – eSocial, RAIS Mensal (Dezembro/2025) e Portal Emprega Brasil (Fevereiro/2026).</text>
<text transform="translate(360.90,491.50) scale(1.11,1) matrix(1,0.0006,0,1,0,0)" font-size="7.342" font-weight="bold" fill="#000" text-anchor="middle" stroke="#000" stroke-width="0.2">Nota: Os vínculos ativos correspondem à competência de dezembro de 2025, enquanto as remunerações consideram o período de janeiro a dezembro de 2025. As demais</text>
<text transform="translate(361.00,500.20) scale(1.11,1) matrix(1,0.0006,0,1,0,0)" font-size="7.342" font-weight="bold" fill="#000" text-anchor="middle" stroke="#000" stroke-width="0.2">informações complementares foram coletadas em fevereiro de 2026.</text>
</svg>
</body></html>
